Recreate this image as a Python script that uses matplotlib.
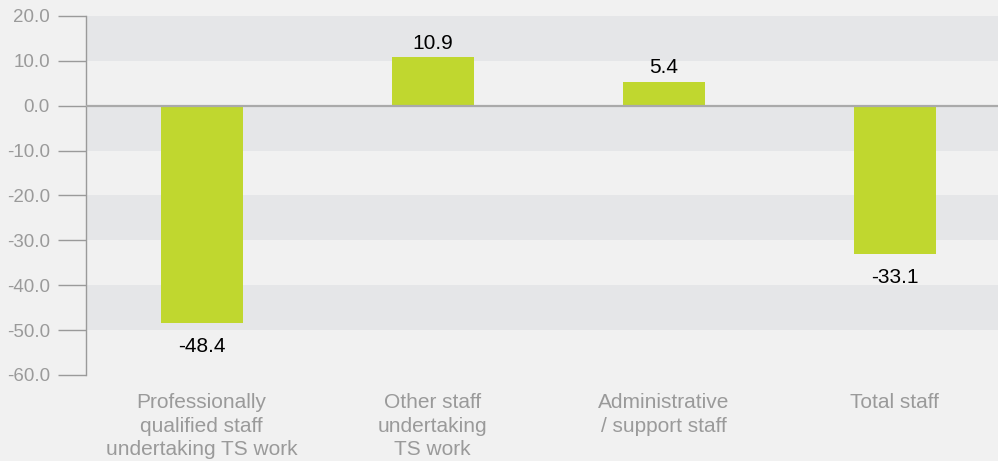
import numpy as np
import matplotlib.pyplot as plt

plt.rcParams['font.family'] = ['Liberation Sans', 'DejaVu Sans']

categories = ["Professionally\nqualified staff\nundertaking TS work",
              "Other staff\nundertaking\nTS work",
              "Administrative\n/ support staff",
              "Total staff"]
values = [-48.4, 10.9, 5.4, -33.1]
yticks = [20, 10, 0, -10, -20, -30, -40, -50, -60]

bg = "#f1f1f1"
band = "#e5e6e8"
green = "#c0d72f"
grey_txt = "#9a9a9a"

fig = plt.figure(figsize=(9.98, 4.61), dpi=100, facecolor=bg)
ax = fig.add_axes([0.0862, 0.1866, 1 - 0.0862, 0.9653 - 0.1866])
ax.set_facecolor(bg)

# alternating horizontal bands
for lo in [10, -10, -30, -50]:
    ax.axhspan(lo, lo + 10, color=band, lw=0, zorder=0)

x = np.arange(len(values))
ax.bar(x, values, width=0.355, color=green, zorder=2)
ax.axhline(0, color="#aaaaaa", lw=1.6, zorder=3)

for xi, v in zip(x, values):
    if v >= 0:
        ax.annotate(f"{v:.1f}", (xi, v), xytext=(0, 3), textcoords="offset points",
                    ha="center", va="bottom", fontsize=15, color="black")
    else:
        ax.annotate(f"{v:.1f}", (xi, v), xytext=(0, -10), textcoords="offset points",
                    ha="center", va="top", fontsize=15, color="black")

ax.set_xlim(-0.5, 3.448)
ax.set_ylim(-60, 20)
ax.set_yticks(yticks)
ax.set_yticklabels([f"{t:.1f}" for t in yticks], fontsize=13.5, color=grey_txt)
ax.tick_params(axis="y", length=20, width=1, color=grey_txt, pad=6)

ax.set_xticks(x)
ax.set_xticklabels(categories, fontsize=15, color=grey_txt, linespacing=1.3)
ax.tick_params(axis="x", length=0, pad=13)

for s in ["top", "right", "bottom"]:
    ax.spines[s].set_visible(False)
ax.spines["left"].set_color(grey_txt)
ax.spines["left"].set_linewidth(1)

fig.savefig("out.png", dpi=100, facecolor=bg)
